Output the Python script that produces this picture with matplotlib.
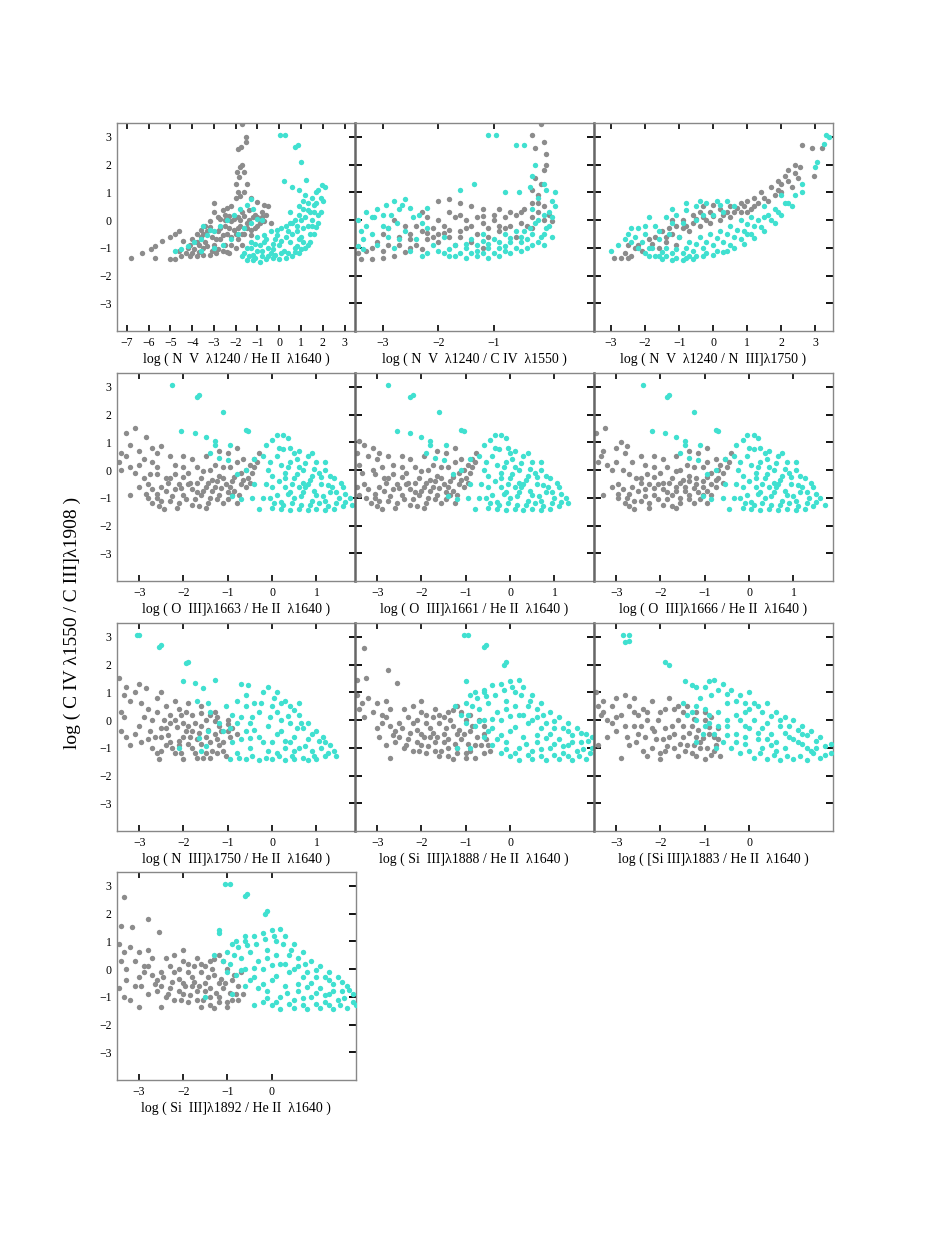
import matplotlib
matplotlib.use("Agg")
import numpy as np
from matplotlib import pyplot as plt

plt.rcParams["font.family"] = ["Liberation Serif", "DejaVu Serif"]

# y axis of every panel: log(C IV 1550 / C III] 1908)
y_ticks = [-3, -2, -1, 0, 1, 2, 3]

# ---- panel 1: N V 1240 / He II 1640 ----
p1_gray = [(-6.8, -1.38), (-6.3, -1.2), (-5.9, -1.05), (-5.7, -0.95), (-5.4, -0.75), (-5.0, -0.6),
           (-4.8, -0.5), (-4.6, -0.4), (-5.7, -1.35), (-5.0, -1.4), (-4.8, -1.4), (-4.5, -1.3),
           (-4.2, -1.0), (-4.4, -0.75), (-4.0, -0.7), (-3.8, -0.5), (-3.6, -0.35), (-3.4, -0.2),
           (-3.2, -0.05), (-3.0, 0.6), (-3.0, 0.3), (-2.8, 0.1), (-2.6, 0.35), (-2.4, 0.45),
           (-2.2, 0.5), (-4.0, -1.2), (-3.8, -1.3), (-3.5, -1.25), (-3.2, -1.25), (-2.9, -1.2),
           (-2.6, -1.1), (-2.3, -1.2), (-3.7, -0.9), (-3.4, -0.8), (-3.1, -0.6), (-2.8, -0.4),
           (-2.5, -0.2), (-2.2, -0.05), (-1.9, 0.1), (-3.5, -1.0), (-3.0, -0.9), (-2.7, -0.7),
           (-2.4, -0.5), (-2.1, -0.35), (-1.8, -0.2), (-1.5, -0.1), (-2.2, -0.9), (-1.9, -0.7),
           (-1.6, -0.5), (-1.3, -0.35), (-1.0, -0.2), (-0.7, -0.05), (-0.4, -0.1), (-1.7, 0.3),
           (-1.4, 0.35), (-1.1, 0.2), (-0.8, 0.1), (-2.0, -1.0), (-1.7, -0.9), (-2.0, 0.8),
           (-1.9, 1.0), (-1.8, 0.85), (-2.0, 1.3), (-1.85, 1.55), (-1.95, 1.75), (-1.8, 1.9),
           (-1.7, 2.0), (-1.6, 1.75), (-1.9, 2.55), (-1.75, 2.65), (-1.55, 2.8), (-1.55, 3.0),
           (-1.7, 3.45), (-1.5, 1.3), (-1.3, 0.8), (-1.0, 0.65), (-0.7, 0.55), (-0.5, 0.5),
           (-1.6, 1.0), (-2.3, 0.15), (-2.5, 0.0)]
p1_gray_fill = [(-4.6, -1.1), (-4.3, -1.2), (-4.1, -0.9), (-3.9, -1.05), (-3.7, -1.15), (-3.6, -0.6),
                (-3.3, -0.95), (-3.3, -0.4), (-3.1, -1.1), (-2.9, -0.7), (-2.8, -1.05), (-2.7, -0.3),
                (-2.6, -0.55), (-2.5, -0.9), (-2.4, -1.15), (-2.3, -0.3), (-2.2, -0.6), (-2.1, 0.05),
                (-2.0, -0.5), (-1.9, -0.3), (-1.8, 0.0), (-1.7, -0.5), (-1.6, 0.15), (-1.5, -0.3),
                (-1.4, 0.0), (-1.3, -0.55), (-1.2, 0.1), (-1.1, -0.3), (-1.0, 0.1), (-0.9, -0.1),
                (-0.8, 0.3), (-0.6, 0.2), (-3.8, -0.8), (-3.5, -0.5), (-4.1, -1.3), (-2.5, 0.2),
                (-2.7, 0.05), (-3.2, -0.25)]
p1_cyan = [(-4.8, -1.1), (-4.5, -1.05), (-4.2, -0.95), (-3.9, -0.8), (-3.6, -0.7), (-3.3, -0.55),
           (-3.0, -0.4), (-2.7, -0.2), (-2.4, 0.0), (-2.1, 0.2), (-1.8, 0.4), (-1.5, 0.55),
           (-1.3, 0.75), (-3.6, -1.1), (-3.0, -1.0), (-2.6, -0.9), (-2.2, -0.7), (-1.9, -0.5),
           (-1.6, -0.3), (-1.3, -0.1), (-1.0, 0.05), (-3.5, -0.2), (-3.2, -0.35), (-1.7, -1.3),
           (-1.5, -1.45), (-1.2, -1.45), (-0.9, -1.5), (-0.6, -1.4), (-0.3, -1.35), (0.0, -1.4),
           (0.3, -1.35), (0.6, -1.3), (0.9, -1.2), (1.2, -1.0), (1.4, -0.8), (1.6, -0.5),
           (1.8, -0.1), (1.9, 0.3), (2.0, 0.7), (2.1, 1.2), (1.95, 1.25), (1.7, 1.0), (1.5, 0.8),
           (1.3, 0.6), (1.1, 0.4), (0.9, 0.2), (0.7, 0.0), (0.5, -0.1), (0.3, -0.2), (0.1, -0.3),
           (-0.1, -0.35), (-0.4, -0.4), (-0.7, -0.55), (-1.0, -0.6), (-1.3, -0.8), (-1.5, -1.0),
           (-1.0, -1.1), (-0.5, -1.0), (0.0, -0.9), (0.5, -0.8), (1.0, -0.6), (1.3, -0.2),
           (1.6, 0.3), (-0.7, -0.8), (-0.2, -0.7), (0.3, -0.6), (0.8, -0.4), (1.2, 0.1), (1.5, 0.0),
           (0.2, -1.1), (0.7, -1.0), (1.1, -0.8), (-1.2, -1.25), (-0.4, -1.2), (0.5, 0.3),
           (0.9, 0.5), (1.2, 0.9), (1.7, 0.6), (0.05, 3.05), (0.25, 3.05), (0.7, 2.65), (0.85, 2.7),
           (1.0, 2.1), (0.2, 1.4), (0.6, 1.2), (1.25, 1.45), (0.9, 1.1), (-1.2, 0.4), (-0.8, 0.0)]
p1_cyan_fill = [(-1.6, -1.2), (-1.4, -1.3), (-1.1, -1.35), (-0.8, -1.3), (-0.5, -1.3), (-0.2, -1.25),
                (0.1, -1.2), (0.4, -1.2), (0.7, -1.15), (1.0, -1.05), (1.3, -0.9), (-1.3, -1.0),
                (-1.1, -0.85), (-0.9, -0.9), (-0.6, -0.7), (-0.3, -0.85), (-0.1, -0.55), (0.1, -0.75),
                (0.4, -0.4), (0.6, -0.5), (0.9, -0.7), (1.1, -0.3), (1.4, -0.5), (1.5, -0.2),
                (1.7, -0.25), (1.4, 0.3), (1.6, 0.55), (1.8, 0.2), (1.9, 0.8), (1.8, 1.1), (1.3, 0.35),
                (1.0, 0.0), (0.8, -0.2), (0.6, -0.1), (1.1, 0.7), (-0.8, -1.1), (-0.3, -1.05),
                (0.8, -0.95)]

# ---- panel 2: N V 1240 / C IV 1550 ----
p2_gray = [(-3.4, -1.4), (-3.2, -1.4), (-3.0, -1.35), (-2.8, -1.3), (-3.3, -1.1), (-3.1, -0.8),
           (-2.9, -0.9), (-2.7, -0.6), (-2.5, -0.5), (-2.3, -0.4), (-2.1, -0.3), (-1.9, -0.2),
           (-2.4, -0.9), (-2.2, -0.7), (-2.0, -0.5), (-1.8, -0.6), (-1.6, -0.4), (-1.4, -0.2),
           (-1.2, -0.1), (-1.0, 0.0), (-0.8, 0.1), (-0.6, 0.2), (-2.0, 0.0), (-1.8, 0.3),
           (-2.0, 0.7), (-1.8, 0.75), (-1.6, 0.6), (-1.4, 0.5), (-1.2, 0.4), (-0.9, 0.4),
           (-1.5, 0.0), (-1.7, -0.9), (-1.4, -0.8), (-1.1, -0.6), (-0.9, -0.4), (-0.7, -0.2),
           (-0.5, -0.1), (-0.3, 0.1), (-0.1, 0.0), (0.05, -0.05), (-2.6, -0.2), (-2.8, 0.0),
           (-2.2, 0.1), (-0.3, 0.6), (-0.2, 0.9), (-0.15, 1.3), (-0.25, 1.5), (-0.1, 1.8),
           (-0.05, 2.0), (-0.25, 2.6), (-0.1, 2.8), (-0.3, 3.05), (-0.15, 3.45), (-0.05, 2.4),
           (-0.3, 1.1), (-0.45, 0.4), (-2.5, -1.0), (-3.0, -0.5), (-1.2, -1.0), (-0.6, -0.6)]
p2_gray_fill = [(-3.45, -1.2), (-3.2, -1.0), (-3.0, -1.1), (-2.9, -0.3), (-2.7, -0.9), (-2.6, -1.15),
                (-2.5, -0.7), (-2.4, -0.2), (-2.3, -1.05), (-2.2, -0.45), (-2.1, -0.6), (-2.0, -0.8),
                (-1.9, -0.45), (-1.8, -0.35), (-1.7, 0.1), (-1.6, -0.6), (-1.5, -0.3), (-1.3, -0.5),
                (-1.3, 0.1), (-1.1, -0.3), (-1.0, 0.2), (-0.9, -0.2), (-0.8, -0.3), (-0.7, 0.3),
                (-0.5, 0.3), (-0.4, -0.2), (-0.3, -0.3), (-0.2, 0.3), (-0.1, 0.5), (0.0, 0.2),
                (-0.2, 0.6), (-1.6, 0.2), (-2.3, 0.3), (-1.2, 0.15)]
p2_cyan = [(-3.45, 0.0), (-3.4, -0.4), (-3.35, -0.7), (-3.45, -0.95), (-3.3, 0.3), (-3.15, 0.1),
           (-3.1, 0.4), (-2.95, 0.55), (-2.8, 0.7), (-2.6, 0.75), (-2.7, 0.4), (-2.85, 0.2),
           (-3.0, -0.2), (-3.2, -0.5), (-3.1, -0.9), (-2.9, -0.6), (-2.75, -0.1), (-2.5, 0.45),
           (-2.35, 0.2), (-2.2, 0.45), (-2.6, -0.4), (-2.8, -1.0), (-2.5, -1.1), (-2.3, -1.3),
           (-2.4, -0.7), (-2.1, -0.9), (-1.9, -1.2), (-1.7, -1.3), (-1.5, -1.35), (-1.3, -1.3),
           (-1.1, -1.35), (-0.9, -1.3), (-0.7, -1.2), (-0.5, -1.1), (-0.3, -0.9), (-0.15, -0.6),
           (-0.05, -0.3), (0.05, 0.1), (0.1, 0.5), (0.1, 1.0), (-0.05, 1.1), (-0.2, 0.8),
           (-0.3, 0.4), (-0.2, 0.0), (-0.35, -0.3), (-0.5, -0.6), (-0.7, -0.8), (-0.9, -1.0),
           (-1.1, -1.0), (-1.3, -1.1), (-1.5, -1.0), (-1.7, -0.9), (-1.4, -0.7), (-1.0, -0.7),
           (-0.6, -0.4), (-0.8, -0.5), (-1.2, -0.5), (-1.9, -0.6), (-2.0, -1.1), (-0.4, -0.7),
           (-1.8, -1.05), (-1.1, 3.05), (-0.95, 3.05), (-0.6, 2.7), (-0.45, 2.7), (-0.25, 2.0),
           (-0.3, 1.6), (-1.35, 1.3), (-1.6, 1.1), (-0.8, 1.0), (-0.55, 1.0), (-0.35, 1.2),
           (-0.1, 1.3)]
p2_cyan_fill = [(-1.6, -1.2), (-1.4, -1.2), (-1.2, -1.2), (-1.0, -1.2), (-0.8, -1.1), (-0.6, -1.0),
                (-0.4, -1.0), (-0.2, -0.8), (-0.1, -0.5), (0.0, -0.2), (-1.5, -0.85), (-1.3, -0.9),
                (-1.1, -0.85), (-0.9, -0.8), (-0.7, -0.65), (-0.5, -0.8), (-0.3, -0.5), (-0.1, -0.9),
                (0.05, -0.6), (0.0, 0.3), (0.05, 0.7), (-0.1, 0.2), (-0.25, -0.1), (-0.45, -0.4),
                (-1.2, -0.75), (-0.8, -0.95), (-3.3, -0.2), (-3.2, 0.1), (-3.0, 0.2), (-2.9, -0.3),
                (-3.35, -1.05), (-2.65, 0.55), (-2.45, 0.1), (-2.3, -0.1), (-2.2, -0.3), (-2.7, -0.7),
                (-2.2, -1.2), (-1.8, -1.3)]

# ---- panel 3: N V 1240 / N III] 1750 ----
p3_gray = [(-2.9, -1.35), (-2.7, -1.35), (-2.5, -1.35), (-2.4, -1.3), (-2.5, -0.9), (-2.3, -1.0),
           (-2.1, -1.1), (-1.9, -0.7), (-1.7, -0.6), (-1.5, -0.4), (-1.3, -0.3), (-1.1, -0.2),
           (-0.9, 0.0), (-0.6, 0.2), (-0.4, 0.3), (-0.1, 0.3), (0.2, 0.4), (0.5, 0.5), (0.8, 0.6),
           (1.0, 0.7), (1.2, 0.8), (1.4, 1.0), (1.7, 1.2), (1.9, 1.4), (2.1, 1.6), (2.2, 1.8),
           (2.4, 2.0), (2.5, 1.5), (2.3, 1.2), (2.0, 1.0), (1.8, 0.9), (-1.0, -0.6), (-0.7, -0.4),
           (-0.4, -0.2), (-0.1, -0.1), (0.2, 0.0), (0.5, 0.1), (0.8, 0.3), (1.1, 0.4), (-1.4, -0.8),
           (-1.1, -0.9), (-0.2, 0.0), (0.3, 0.2), (0.6, 0.3), (1.3, 0.6), (-0.8, -0.2), (-1.6, -1.0),
           (2.6, 2.7), (3.2, 2.6), (2.9, 2.6), (2.95, 1.6), (2.55, 1.9), (-0.3, 0.5), (0.0, 0.55),
           (-1.2, 0.0)]
p3_gray_fill = [(-2.6, -1.2), (-2.2, -0.9), (-1.8, -0.85), (-1.4, -0.6), (-1.2, -0.5), (-0.9, -0.3),
                (-0.6, -0.1), (-0.5, 0.05), (-0.3, 0.1), (0.0, 0.15), (0.4, 0.3), (0.7, 0.45),
                (0.9, 0.5), (1.2, 0.5), (1.5, 0.8), (1.6, 0.7), (1.9, 1.1), (2.2, 1.4), (2.4, 1.7),
                (2.0, 1.3), (1.0, 0.3)]
p3_cyan = [(-3.0, -1.1), (-2.8, -0.9), (-2.5, -0.5), (-2.3, -0.6), (-2.1, -0.8), (-1.9, -1.0),
           (-1.7, -1.3), (-1.5, -1.4), (-1.2, -1.45), (-0.9, -1.45), (-0.6, -1.4), (-0.3, -1.3),
           (0.0, -1.25), (0.3, -1.15), (0.6, -1.0), (0.9, -0.85), (1.2, -0.65), (1.5, -0.4),
           (1.8, -0.1), (2.0, 0.2), (2.3, 0.5), (2.6, 1.0), (2.4, 0.9), (2.1, 0.6), (1.8, 0.4),
           (1.5, 0.1), (1.2, -0.2), (0.9, -0.4), (0.6, -0.6), (0.3, -0.8), (0.0, -0.9), (-0.3, -1.0),
           (-0.6, -1.1), (-0.9, -1.2), (-1.2, -1.2), (-1.5, -1.15), (-1.8, -1.0), (-1.6, -0.7),
           (-1.3, -0.5), (-1.0, -0.6), (-0.7, -0.8), (-0.4, -0.6), (-0.1, -0.5), (0.2, -0.4),
           (0.5, -0.2), (0.8, 0.0), (1.1, 0.1), (-1.7, -0.2), (-1.4, 0.1), (-1.1, 0.2), (-0.8, 0.35),
           (-0.5, 0.5), (-0.2, 0.6), (0.1, 0.7), (0.4, 0.7), (-2.2, -0.3), (-1.9, 0.1), (-1.2, -0.1),
           (-0.5, 0.0), (0.0, 0.2), (-2.0, -0.5), (1.5, 0.5), (2.0, 0.9), (-0.7, -1.3), (0.4, -1.1),
           (1.0, -0.5), (3.0, 1.9), (3.05, 2.1), (3.3, 3.05), (3.4, 3.0), (3.25, 2.75), (2.6, 1.3)]
p3_cyan_fill = [(-2.6, -0.7), (-2.4, -0.8), (-2.2, -1.0), (-2.0, -1.2), (-1.9, -1.3), (-1.6, -1.3),
                (-1.4, -1.3), (-1.1, -1.35), (-0.8, -1.35), (-0.5, -1.3), (-0.2, -1.2), (0.1, -1.1),
                (0.5, -0.9), (0.8, -0.7), (1.1, -0.5), (1.4, -0.25), (1.7, 0.0), (1.9, 0.3),
                (2.2, 0.6), (-1.4, -1.0), (-1.1, -1.05), (-0.8, -1.0), (-0.5, -0.85), (-0.2, -0.8),
                (0.1, -0.65), (0.4, -0.5), (0.7, -0.35), (1.0, -0.15), (1.3, 0.0), (1.6, 0.2),
                (-2.4, -0.3), (-2.0, -0.2), (-1.6, -0.4), (-0.9, -0.1), (-0.3, 0.2), (0.3, 0.3),
                (0.6, 0.5), (-1.2, 0.4), (-0.8, 0.6), (-0.4, 0.7), (0.2, 0.55)]

# ---- panel 4: O III] 1663 / He II 1640 ----
p4_gray = [(-3.45, 0.3), (-3.4, 0.0), (-3.3, 0.5), (-3.2, 0.1), (-3.1, -0.1), (-3.0, 0.2),
           (-2.9, -0.3), (-3.3, 1.35), (-3.1, 1.5), (-3.2, 0.9), (-3.0, 0.7), (-2.85, 1.2),
           (-2.7, 0.8), (-2.6, 0.6), (-2.5, 0.85), (-2.8, -0.5), (-2.7, -0.7), (-2.6, -1.0),
           (-2.8, -1.0), (-2.55, -1.3), (-2.45, -1.4), (-2.3, -1.1), (-2.5, -0.6), (-2.4, -0.3),
           (-2.2, -0.7), (-2.1, -1.2), (-2.0, -0.9), (-1.9, -0.5), (-1.8, -1.25), (-1.7, -0.8),
           (-1.6, -0.3), (-1.5, -1.35), (-1.4, -1.0), (-1.3, -0.6), (-1.2, -0.2), (-1.1, -1.2),
           (-1.0, -0.8), (-0.9, -0.4), (-0.8, -1.2), (-0.7, -0.1), (-0.6, -0.6), (-0.5, 0.2),
           (-0.4, 0.4), (-0.3, 0.6), (-0.55, -0.3), (-0.8, 0.3), (-1.1, 0.1), (-1.4, 0.0),
           (-1.7, 0.1), (-2.0, 0.1), (-2.2, 0.2), (-2.3, 0.5), (-2.0, 0.5), (-1.8, 0.4), (-1.5, 0.5),
           (-1.2, 0.7), (-1.0, 0.6), (-0.8, 0.8), (-2.3, -0.3), (-2.0, -0.25), (-1.8, -0.7),
           (-1.5, -0.6), (-1.2, -0.9), (-0.9, -0.9), (-1.6, -0.9), (-2.1, -0.5), (-1.35, -0.35),
           (-1.05, -0.5), (-0.7, -0.5), (-0.45, -0.1), (-3.4, 0.6), (-2.9, 0.4), (-2.7, 0.3),
           (-2.6, 0.1), (-2.75, -0.15)]
p4_gray_fill = [(-2.7, -1.2), (-2.6, -0.85), (-2.5, -1.1), (-2.4, -0.75), (-2.35, -0.45), (-2.25, -0.95),
                (-2.15, -1.35), (-2.05, -0.65), (-1.95, -1.05), (-1.9, -0.1), (-1.85, -0.45),
                (-1.75, -1.05), (-1.7, -0.45), (-1.65, -1.3), (-1.55, -0.75), (-1.45, -0.45),
                (-1.45, -1.2), (-1.35, -0.75), (-1.25, -1.05), (-1.25, -0.4), (-1.15, -0.65),
                (-1.1, -0.3), (-1.0, -1.05), (-0.95, -0.6), (-0.85, -0.75), (-0.85, -0.25),
                (-0.75, -0.9), (-0.65, -0.35), (-0.6, 0.0), (-0.5, -0.45), (-0.4, 0.1), (-0.35, 0.3),
                (-1.55, -0.05), (-1.3, 0.2), (-0.95, 0.1), (-0.65, 0.4), (-2.2, -0.15), (-2.6, -0.15),
                (-3.0, -0.6), (-3.2, -0.9), (-2.85, -0.85)]
p4_cyan = [(-0.3, -1.4), (-0.2, -1.0), (-0.15, -0.5), (-0.1, 0.0), (-0.2, 0.5), (-0.15, 0.9),
           (0.0, 1.1), (0.1, 1.25), (0.25, 1.25), (0.35, 1.15), (0.4, 0.8), (0.6, 0.7), (0.8, 0.5),
           (1.0, 0.3), (1.2, 0.0), (1.4, -0.3), (1.6, -0.6), (1.75, -1.0), (1.8, -1.25), (1.6, -1.3),
           (1.4, -1.4), (1.2, -1.45), (1.0, -1.4), (0.8, -1.45), (0.6, -1.4), (0.4, -1.45),
           (0.2, -1.4), (0.0, -1.35), (0.1, -0.9), (0.3, -0.6), (0.5, -0.3), (0.7, 0.0), (0.9, -0.2),
           (1.1, -0.5), (1.3, -0.8), (1.5, -1.0), (0.2, 0.2), (0.4, 0.3), (0.6, 0.1), (0.8, -0.5),
           (1.0, -0.9), (1.2, -1.1), (0.5, -1.0), (0.3, -0.1), (0.1, 0.5), (0.0, -0.6), (0.7, -0.8),
           (0.9, -1.1), (0.6, -0.6), (0.4, -0.8), (1.3, -0.2), (0.2, -1.15), (-0.4, -0.5),
           (-0.45, -1.0), (-0.7, -1.05), (-0.9, -0.95), (-0.6, 0.0), (-0.8, -0.15), (-1.0, 0.35),
           (-1.2, 0.45), (-1.4, 0.6), (-0.4, 0.4), (1.65, -0.85), (1.2, 0.3), (0.9, 0.6), (0.5, 0.6),
           (-2.25, 3.05), (-1.7, 2.65), (-1.65, 2.7), (-1.1, 2.1), (-2.05, 1.4), (-1.75, 1.35),
           (-1.5, 1.2), (-1.3, 1.05), (-0.6, 1.45), (-0.55, 1.4), (-0.95, 0.9), (-1.3, 0.9)]
p4_cyan_fill = [(0.05, -1.2), (0.25, -1.25), (0.45, -1.2), (0.65, -1.25), (0.85, -1.25), (1.05, -1.2),
                (1.25, -1.3), (1.45, -1.2), (1.65, -1.15), (0.0, -0.2), (0.15, -0.4), (0.35, -0.85),
                (0.45, -0.5), (0.55, -0.15), (0.65, -0.95), (0.75, -0.6), (0.85, -0.35), (0.95, -0.75),
                (1.05, -0.1), (1.15, -0.95), (1.25, -0.55), (1.35, -0.6), (1.45, -0.8), (1.55, -0.45),
                (0.25, 0.75), (0.35, 0.1), (0.55, 0.4), (0.75, 0.25), (0.95, 0.05), (0.15, 0.8),
                (-0.05, 0.3), (-0.05, -1.0), (0.3, -0.3), (0.7, -0.45), (1.1, -0.25)]

# ---- panel 5: O III] 1661 / He II 1640 ----
p5_gray = [(-3.45, 0.6), (-3.4, 1.05), (-3.3, 0.9), (-3.4, 0.2), (-3.35, -0.1), (-3.2, 0.5),
           (-3.1, 0.8), (-3.0, 0.4), (-2.95, 0.6), (-3.3, -0.5), (-3.2, -0.7), (-3.05, -1.0),
           (-3.25, -1.0), (-3.0, -1.3), (-2.9, -1.4), (-2.75, -1.1), (-2.95, -0.6), (-2.85, -0.3),
           (-2.65, -0.7), (-2.55, -1.2), (-2.45, -0.9), (-2.35, -0.5), (-2.25, -1.25), (-2.15, -0.8),
           (-2.05, -0.3), (-1.95, -1.35), (-1.85, -1.0), (-1.75, -0.6), (-1.65, -0.2), (-1.55, -1.2),
           (-1.45, -0.8), (-1.35, -0.4), (-1.25, -1.2), (-1.15, -0.1), (-1.05, -0.6), (-0.95, 0.2),
           (-0.85, 0.4), (-0.78, 0.6), (-1.0, -0.3), (-1.25, 0.3), (-1.55, 0.1), (-1.85, 0.0),
           (-2.15, 0.1), (-2.45, 0.1), (-2.65, 0.2), (-2.75, 0.5), (-2.45, 0.5), (-2.25, 0.4),
           (-1.95, 0.5), (-1.65, 0.7), (-1.45, 0.6), (-1.25, 0.8), (-2.75, -0.3), (-2.45, -0.25),
           (-2.25, -0.7), (-1.95, -0.6), (-1.65, -0.9), (-1.35, -0.9), (-2.05, -0.9), (-2.55, -0.5),
           (-1.8, -0.35), (-1.5, -0.5), (-1.15, -0.5), (-0.9, -0.1), (-3.1, 0.0), (-2.9, 0.1)]
p5_gray_fill = [(-3.15, -1.2), (-3.05, -0.85), (-2.95, -1.1), (-2.85, -0.75), (-2.8, -0.45), (-2.7, -0.95),
                (-2.6, -1.35), (-2.5, -0.65), (-2.4, -1.05), (-2.35, -0.1), (-2.3, -0.45), (-2.2, -1.05),
                (-2.15, -0.45), (-2.1, -1.3), (-2.0, -0.75), (-1.9, -0.45), (-1.9, -1.2), (-1.8, -0.75),
                (-1.7, -1.05), (-1.7, -0.4), (-1.6, -0.65), (-1.55, -0.3), (-1.45, -1.05), (-1.4, -0.6),
                (-1.3, -0.75), (-1.3, -0.25), (-1.2, -0.9), (-1.1, -0.35), (-1.05, 0.0), (-0.95, -0.45),
                (-0.85, 0.1), (-0.8, 0.3), (-2.0, -0.05), (-1.75, 0.2), (-1.4, 0.1), (-1.1, 0.4),
                (-2.65, -0.15), (-3.05, -0.15), (-3.45, -0.6), (-3.4, -0.9)]
p5_cyan = [(-0.8, -1.4), (-0.7, -1.0), (-0.65, -0.5), (-0.6, 0.0), (-0.7, 0.5), (-0.6, 0.9),
           (-0.45, 1.1), (-0.35, 1.25), (-0.2, 1.25), (-0.1, 1.15), (-0.05, 0.8), (0.1, 0.7),
           (0.3, 0.5), (0.5, 0.3), (0.7, 0.0), (0.9, -0.3), (1.1, -0.6), (1.25, -1.0), (1.3, -1.2),
           (1.1, -1.3), (0.9, -1.4), (0.7, -1.45), (0.5, -1.4), (0.3, -1.45), (0.1, -1.4),
           (-0.1, -1.45), (-0.3, -1.4), (-0.5, -1.35), (-0.4, -0.9), (-0.2, -0.6), (0.0, -0.3),
           (0.2, 0.0), (0.4, -0.2), (0.6, -0.5), (0.8, -0.8), (1.0, -1.0), (-0.3, 0.2), (-0.1, 0.3),
           (0.1, 0.1), (0.3, -0.5), (0.5, -0.9), (0.7, -1.1), (0.0, -1.0), (-0.2, -0.1), (-0.4, 0.5),
           (-0.5, -0.6), (0.2, -0.8), (0.4, -1.1), (0.1, -0.6), (-0.1, -0.8), (0.8, -0.2),
           (-0.3, -1.15), (-0.9, -0.5), (-0.95, -1.0), (-1.2, -1.05), (-1.4, -0.95), (-1.1, 0.0),
           (-1.3, -0.15), (-1.5, 0.35), (-1.7, 0.45), (-1.9, 0.6), (-0.9, 0.4), (1.15, -0.85),
           (0.7, 0.3), (0.4, 0.6), (0.0, 0.6), (-2.75, 3.05), (-2.25, 2.65), (-2.2, 2.7),
           (-1.6, 2.1), (-2.55, 1.4), (-2.25, 1.35), (-2.0, 1.2), (-1.8, 1.05), (-1.1, 1.45),
           (-1.05, 1.4), (-1.45, 0.9), (-1.8, 0.9)]
p5_cyan_fill = [(-0.45, -1.2), (-0.25, -1.25), (-0.05, -1.2), (0.15, -1.25), (0.35, -1.25), (0.55, -1.2),
                (0.75, -1.3), (0.95, -1.2), (1.15, -1.15), (-0.5, -0.2), (-0.35, -0.4), (-0.15, -0.85),
                (-0.05, -0.5), (0.05, -0.15), (0.15, -0.95), (0.25, -0.6), (0.35, -0.35), (0.45, -0.75),
                (0.55, -0.1), (0.65, -0.95), (0.75, -0.55), (0.85, -0.6), (0.95, -0.8), (1.05, -0.45),
                (-0.25, 0.75), (-0.15, 0.1), (0.05, 0.4), (0.25, 0.25), (0.45, 0.05), (-0.35, 0.8),
                (-0.55, 0.3), (-0.55, -1.0), (-0.2, -0.3), (0.2, -0.45), (0.6, -0.25)]

# ---- panel 6: O III] 1666 / He II 1640 ----
p6_gray = [(-3.45, 1.35), (-3.25, 1.5), (-3.4, 0.3), (-3.35, 0.5), (-3.2, 0.2), (-3.1, 0.0),
           (-3.0, 0.3), (-3.0, 0.8), (-2.9, 1.0), (-2.8, 0.6), (-2.75, 0.85), (-2.95, -0.5),
           (-2.85, -0.7), (-2.75, -1.0), (-2.95, -1.0), (-2.7, -1.3), (-2.6, -1.4), (-2.45, -1.1),
           (-2.65, -0.6), (-2.55, -0.3), (-2.35, -0.7), (-2.25, -1.2), (-2.15, -0.9), (-2.05, -0.5),
           (-1.95, -1.25), (-1.85, -0.8), (-1.75, -0.3), (-1.65, -1.35), (-1.55, -1.0), (-1.45, -0.6),
           (-1.35, -0.2), (-1.25, -1.2), (-1.15, -0.8), (-1.05, -0.4), (-0.95, -1.2), (-0.85, -0.1),
           (-0.75, -0.6), (-0.65, 0.2), (-0.55, 0.4), (-0.4, 0.6), (-0.7, -0.3), (-0.95, 0.3),
           (-1.25, 0.1), (-1.55, 0.0), (-1.85, 0.1), (-2.15, 0.1), (-2.35, 0.2), (-2.45, 0.5),
           (-2.15, 0.5), (-1.95, 0.4), (-1.65, 0.5), (-1.35, 0.7), (-1.15, 0.6), (-0.95, 0.8),
           (-2.45, -0.3), (-2.15, -0.25), (-1.95, -0.7), (-1.65, -0.6), (-1.35, -0.9), (-1.05, -0.9),
           (-1.75, -0.9), (-2.25, -0.5), (-1.5, -0.35), (-1.2, -0.5), (-0.85, -0.5), (-0.6, -0.1),
           (-3.3, 0.7), (-2.65, 0.3), (-2.85, 0.0)]
p6_gray_fill = [(-2.8, -1.2), (-2.7, -0.85), (-2.6, -1.1), (-2.5, -0.75), (-2.45, -0.45), (-2.35, -0.95),
                (-2.25, -1.35), (-2.15, -0.65), (-2.05, -1.05), (-2.0, -0.1), (-1.95, -0.45),
                (-1.85, -1.05), (-1.8, -0.45), (-1.75, -1.3), (-1.65, -0.75), (-1.55, -0.45),
                (-1.55, -1.2), (-1.45, -0.75), (-1.35, -1.05), (-1.35, -0.4), (-1.25, -0.65),
                (-1.2, -0.3), (-1.1, -1.05), (-1.05, -0.6), (-0.95, -0.75), (-0.95, -0.25),
                (-0.85, -0.9), (-0.75, -0.35), (-0.7, 0.0), (-0.6, -0.45), (-0.5, 0.1), (-0.45, 0.3),
                (-1.65, -0.05), (-1.4, 0.2), (-1.05, 0.1), (-0.75, 0.4), (-2.3, -0.15), (-2.7, -0.15),
                (-3.1, -0.6), (-3.3, -0.9), (-2.95, -0.85)]
p6_cyan = [(-0.45, -1.4), (-0.35, -1.0), (-0.3, -0.5), (-0.25, 0.0), (-0.35, 0.5), (-0.3, 0.9),
           (-0.15, 1.1), (-0.05, 1.25), (0.1, 1.25), (0.2, 1.15), (0.25, 0.8), (0.45, 0.7),
           (0.65, 0.5), (0.85, 0.3), (1.05, 0.0), (1.25, -0.3), (1.45, -0.6), (1.6, -1.0),
           (1.7, -1.25), (1.45, -1.3), (1.25, -1.4), (1.05, -1.45), (0.85, -1.4), (0.65, -1.45),
           (0.45, -1.4), (0.25, -1.45), (0.05, -1.4), (-0.15, -1.35), (-0.05, -0.9), (0.15, -0.6),
           (0.35, -0.3), (0.55, 0.0), (0.75, -0.2), (0.95, -0.5), (1.15, -0.8), (1.35, -1.0),
           (0.05, 0.2), (0.25, 0.3), (0.45, 0.1), (0.65, -0.5), (0.85, -0.9), (1.05, -1.1),
           (0.35, -1.0), (0.15, -0.1), (-0.05, 0.5), (-0.15, -0.6), (0.55, -0.8), (0.75, -1.1),
           (0.45, -0.6), (0.25, -0.8), (1.15, -0.2), (0.05, -1.15), (-0.55, -0.5), (-0.6, -1.0),
           (-0.85, -1.05), (-1.05, -0.95), (-0.75, 0.0), (-0.95, -0.15), (-1.15, 0.35),
           (-1.35, 0.45), (-1.55, 0.6), (-0.55, 0.4), (1.5, -0.85), (1.05, 0.3), (0.75, 0.6),
           (0.35, 0.6), (-2.4, 3.05), (-1.85, 2.65), (-1.8, 2.7), (-1.25, 2.1), (-2.2, 1.4),
           (-1.9, 1.35), (-1.65, 1.2), (-1.45, 1.05), (-0.75, 1.45), (-0.7, 1.4), (-1.1, 0.9),
           (-1.45, 0.9)]
p6_cyan_fill = [(-0.1, -1.2), (0.1, -1.25), (0.3, -1.2), (0.5, -1.25), (0.7, -1.25), (0.9, -1.2),
                (1.1, -1.3), (1.3, -1.2), (1.5, -1.15), (-0.15, -0.2), (0.0, -0.4), (0.2, -0.85),
                (0.3, -0.5), (0.4, -0.15), (0.5, -0.95), (0.6, -0.6), (0.7, -0.35), (0.8, -0.75),
                (0.9, -0.1), (1.0, -0.95), (1.1, -0.55), (1.2, -0.6), (1.3, -0.8), (1.4, -0.45),
                (0.1, 0.75), (0.2, 0.1), (0.4, 0.4), (0.6, 0.25), (0.8, 0.05), (0.0, 0.8), (-0.2, 0.3),
                (-0.2, -1.0), (0.15, -0.3), (0.55, -0.45), (0.95, -0.25)]

# ---- panel 7: N III] 1750 / He II 1640 ----
p7_gray = [(-3.45, 1.5), (-3.4, 0.3), (-3.35, 0.9), (-3.3, 1.2), (-3.2, 0.7), (-3.1, 1.0),
           (-3.0, 1.3), (-2.95, 0.6), (-2.85, 1.15), (-3.4, -0.4), (-3.3, -0.6), (-3.2, -0.9),
           (-3.1, -0.5), (-3.0, -0.2), (-2.9, 0.1), (-2.8, 0.4), (-2.7, 0.0), (-2.8, -0.7),
           (-2.7, -1.0), (-2.6, -1.2), (-2.55, -1.4), (-2.6, 0.8), (-2.5, 1.0), (-2.4, 0.5),
           (-2.3, 0.2), (-2.4, -0.3), (-2.3, -0.8), (-2.2, -1.2), (-2.2, 0.7), (-2.1, 0.4),
           (-2.0, -0.1), (-2.0, -0.6), (-2.0, -1.4), (-1.9, 0.6), (-1.8, 0.2), (-1.8, -0.4),
           (-1.8, -1.0), (-1.7, -1.35), (-1.6, 0.5), (-1.5, 0.0), (-1.5, -0.6), (-1.5, -1.2),
           (-1.4, -1.35), (-1.3, 0.3), (-1.2, -0.2), (-1.2, -0.9), (-1.1, -1.1), (-1.0, -0.4),
           (-0.95, -0.6), (-0.8, -0.5), (-1.0, 0.0), (-1.7, -0.7), (-2.1, -0.9), (-2.4, -0.9),
           (-2.5, -0.6), (-1.9, -0.2), (-1.6, -0.2), (-1.3, -0.5), (-2.2, 0.0), (-2.6, 0.3),
           (-1.4, 0.2), (-1.9, -0.85), (-1.25, -1.2), (-3.35, 0.1), (-2.95, -0.8), (-2.75, -0.4),
           (-2.45, 0.0)]
p7_gray_fill = [(-2.5, -1.1), (-2.35, -0.55), (-2.25, -1.0), (-2.15, -0.25), (-2.1, -0.75), (-2.05, -1.2),
                (-1.95, 0.3), (-1.95, -0.4), (-1.85, -0.6), (-1.75, -0.1), (-1.75, -1.2), (-1.65, -0.45),
                (-1.6, -0.85), (-1.55, -1.35), (-1.45, -0.35), (-1.4, -0.8), (-1.35, -1.1), (-1.3, -0.05),
                (-1.25, -0.7), (-1.15, -0.4), (-1.1, -0.8), (-1.05, -1.3), (-1.0, -0.15), (-0.9, -0.3),
                (-2.3, -0.1), (-2.5, -0.3), (-2.65, -0.6), (-2.05, 0.2), (-1.6, 0.25), (-1.25, 0.1)]
p7_cyan = [(-0.95, -1.4), (-0.8, -1.2), (-0.9, -0.8), (-0.95, -0.3), (-0.9, 0.2), (-0.8, 0.7),
           (-0.7, 1.3), (-0.55, 1.25), (-0.6, 0.9), (-0.4, 0.6), (-0.2, 1.0), (-0.1, 1.2),
           (0.1, 1.0), (0.2, 0.6), (0.1, 0.3), (0.4, 0.5), (0.6, 0.2), (0.8, -0.1), (1.0, -0.4),
           (1.2, -0.8), (1.4, -1.1), (1.45, -1.3), (1.2, -1.3), (1.0, -1.4), (0.8, -1.45),
           (0.5, -1.4), (0.3, -1.45), (0.0, -1.4), (-0.3, -1.45), (-0.6, -1.4), (-0.5, -1.0),
           (-0.3, -0.6), (-0.1, -0.2), (0.0, -0.8), (0.2, -0.4), (0.4, -0.1), (0.3, -1.0),
           (0.5, -0.6), (0.7, -0.3), (0.6, -1.0), (0.8, -0.7), (0.9, -1.1), (1.1, -1.0),
           (-0.6, -0.4), (-0.7, 0.1), (-0.3, 0.3), (-0.1, -1.1), (0.2, 0.0), (-0.5, -0.1),
           (0.0, 0.5), (0.4, -0.8), (-1.1, -0.4), (-1.2, -0.1), (-1.4, 0.3), (-1.45, -0.4),
           (-1.65, -0.65), (-1.6, -1.1), (-1.5, -0.95), (-2.1, -1.0), (-1.7, 0.7), (-1.45, 0.6),
           (-1.05, 0.5), (0.6, 0.6), (-3.05, 3.05), (-3.0, 3.05), (-2.55, 2.65), (-2.5, 2.7),
           (-1.95, 2.05), (-1.9, 2.1), (-2.0, 1.4), (-1.75, 1.35), (-1.3, 1.45), (-1.55, 1.15)]
p7_cyan_fill = [(-0.75, -1.35), (-0.45, -1.3), (-0.15, -1.35), (0.15, -1.3), (0.45, -1.3), (0.7, -1.35),
                (0.95, -1.3), (1.25, -1.2), (-0.7, -0.7), (-0.4, -0.35), (-0.2, -0.8), (0.1, -0.5),
                (0.3, -0.75), (0.35, 0.15), (0.55, -0.3), (0.65, -0.1), (0.75, -0.95), (0.9, -0.5),
                (1.05, -0.75), (1.15, -0.6), (1.3, -0.9), (-0.8, -0.1), (-0.6, 0.5), (-0.45, 0.1),
                (-0.25, 0.6), (-0.05, 0.1), (0.05, 0.8), (0.3, 0.7), (0.5, 0.35), (-0.5, -0.65),
                (0.1, -1.2), (0.5, -1.1)]

# ---- panel 8: Si III] 1888 / He II 1640 ----
p8_gray = [(-3.45, 0.9), (-3.4, 0.4), (-3.35, 0.6), (-3.3, 0.1), (-3.2, 0.8), (-3.1, 0.3),
           (-3.0, 0.6), (-2.9, 0.2), (-2.8, 0.7), (-2.7, 0.4), (-3.3, 2.6), (-2.75, 1.8),
           (-3.45, 1.45), (-3.25, 1.5), (-2.55, 1.35), (-2.95, -0.6), (-2.8, -0.9), (-2.7, -1.35),
           (-2.6, -0.4), (-2.5, -0.1), (-2.4, 0.4), (-2.3, -0.7), (-2.2, -1.1), (-2.1, 0.0),
           (-2.0, 0.7), (-2.0, -0.5), (-1.9, -1.2), (-1.8, -0.3), (-1.7, 0.4), (-1.7, -0.8),
           (-1.6, -1.3), (-1.5, 0.1), (-1.5, -0.5), (-1.4, -1.0), (-1.3, -1.4), (-1.3, -0.2),
           (-1.2, 0.5), (-1.1, -0.7), (-1.0, -1.2), (-1.0, 0.0), (-0.9, -0.4), (-0.8, -0.9),
           (-0.7, 0.0), (-0.6, -0.5), (-0.5, -0.9), (-0.45, -1.1), (-0.8, -1.35), (-0.6, -1.2),
           (-2.6, -0.8), (-2.3, 0.1), (-2.1, -0.35), (-1.9, 0.2), (-1.6, -0.1), (-1.8, -0.6),
           (-1.4, 0.3), (-1.2, -0.5), (-2.4, -1.0), (-1.1, 0.3), (-0.9, 0.2), (-2.9, -0.1),
           (-3.0, -0.3), (-2.2, 0.5), (-1.5, -0.8), (-1.2, -1.0), (-2.0, -0.9), (-1.7, -1.1)]
p8_gray_fill = [(-2.5, -0.6), (-2.45, -0.3), (-2.35, -0.9), (-2.25, -0.45), (-2.2, -0.1), (-2.1, -0.8),
                (-2.05, -1.1), (-1.95, -0.6), (-1.9, -0.1), (-1.85, -0.95), (-1.75, -0.45), (-1.65, -0.6),
                (-1.6, 0.2), (-1.55, -1.1), (-1.45, -0.3), (-1.4, -0.7), (-1.35, 0.0), (-1.25, -0.85),
                (-1.2, -1.2), (-1.15, -0.35), (-1.05, -0.5), (-0.95, -0.85), (-0.9, -1.1), (-0.85, -0.2),
                (-0.75, -0.6), (-0.65, -0.9), (-0.6, -0.2), (-0.55, -0.7), (-1.75, 0.1), (-2.0, 0.3),
                (-1.3, 0.35), (-2.7, -0.2), (-2.8, 0.1), (-2.65, -0.55), (-1.4, -1.3), (-1.0, -1.35)]
p8_cyan = [(-1.25, 0.5), (-1.1, 0.2), (-1.0, 0.6), (-0.9, 0.9), (-0.8, 1.0), (-0.6, 1.1),
           (-0.4, 1.25), (-0.2, 1.3), (0.0, 1.4), (0.2, 1.45), (0.3, 1.2), (0.1, 1.0), (0.5, 0.9),
           (0.7, 0.6), (0.9, 0.3), (1.1, 0.1), (1.3, -0.1), (1.5, -0.3), (1.7, -0.5), (1.85, -0.6),
           (1.85, -1.0), (1.7, -1.4), (1.4, -1.45), (1.1, -1.4), (0.8, -1.45), (0.5, -1.4),
           (0.2, -1.45), (0.0, -1.3), (-0.2, -1.2), (-0.4, -0.9), (-0.6, -0.6), (-0.8, -0.2),
           (-1.0, -0.1), (-0.7, 0.4), (-0.5, 0.6), (-0.3, 0.3), (-0.1, 0.7), (0.1, 0.5), (0.3, 0.2),
           (0.5, 0.0), (0.7, -0.3), (0.9, -0.5), (1.1, -0.7), (1.3, -0.9), (1.5, -1.1), (1.2, -1.2),
           (0.9, -1.0), (0.6, -0.8), (0.3, -0.6), (0.0, -0.4), (-0.2, 0.0), (-0.4, -0.3),
           (0.2, -1.0), (0.5, -1.1), (0.8, -0.1), (1.0, -0.3), (0.4, 0.5), (-0.1, -0.8),
           (-1.2, -1.0), (-0.9, -1.0), (-0.6, 0.0), (1.6, -0.8), (1.3, -0.4), (-1.05, 3.05),
           (-0.95, 3.05), (-0.55, 2.7), (-0.6, 2.65), (-0.1, 2.1), (-0.15, 2.0), (-1.0, 1.4),
           (-0.6, 1.0)]
p8_cyan_fill = [(-0.95, 0.2), (-0.85, 0.5), (-0.75, 0.8), (-0.55, 0.85), (-0.35, 0.9), (-0.15, 1.1),
                (0.05, 1.2), (0.25, 0.9), (0.45, 0.7), (0.6, 0.4), (0.75, 0.2), (1.0, -0.05),
                (1.2, -0.3), (1.4, -0.55), (1.6, -0.45), (1.75, -0.75), (1.8, -1.2), (1.55, -1.3),
                (1.3, -1.3), (1.0, -1.25), (0.7, -1.3), (0.4, -1.25), (0.1, -1.2), (-0.1, -1.05),
                (-0.3, -0.7), (-0.5, -0.4), (-0.7, -0.05), (-0.4, 0.05), (-0.1, 0.4), (0.2, 0.2),
                (0.4, -0.1), (0.6, -0.55), (0.8, -0.65), (1.0, -0.85), (1.2, -0.95), (1.4, -0.8),
                (0.1, -0.25), (-0.2, -0.55), (0.35, -0.85), (0.7, -1.05), (1.65, -1.05), (0.6, 0.1),
                (0.0, 0.15)]

# ---- panel 9: [Si III] 1883 / He II 1640 ----
p9_gray = [(-3.45, 1.0), (-3.4, 0.5), (-3.35, 0.2), (-3.3, 0.7), (-3.2, 0.0), (-3.1, 0.5),
           (-3.0, 0.8), (-2.9, 0.2), (-2.8, -0.2), (-2.7, 0.5), (-2.6, 0.8), (-2.5, 0.2),
           (-3.4, -0.9), (-3.2, -0.6), (-3.0, -0.4), (-2.9, -1.35), (-2.7, -0.9), (-2.5, -0.5),
           (-2.4, -1.1), (-2.3, 0.0), (-2.2, 0.7), (-2.1, -0.7), (-2.0, -1.4), (-2.0, 0.3),
           (-1.9, -0.3), (-1.8, 0.8), (-1.7, -1.0), (-1.6, 0.0), (-1.5, -0.6), (-1.4, 0.5),
           (-1.3, -1.2), (-1.3, -0.2), (-1.2, 0.3), (-1.1, -0.8), (-1.0, -1.4), (-1.0, 0.0),
           (-0.9, -0.5), (-0.8, -1.1), (-0.7, -0.7), (-0.65, -1.3), (-1.6, -1.3), (-2.3, -1.3),
           (-1.8, -0.6), (-2.2, -0.3), (-2.6, -0.2), (-1.4, -0.9), (-1.7, 0.4), (-2.4, 0.4),
           (-1.2, -0.6), (-0.85, 0.1), (-3.1, -0.1), (-2.8, 0.9), (-1.5, 0.3), (-1.9, -1.1),
           (-1.1, -1.0)]
p9_gray_fill = [(-2.55, -0.8), (-2.45, -0.2), (-2.35, -0.6), (-2.3, 0.3), (-2.2, -1.0), (-2.15, -0.4),
                (-2.05, 0.0), (-1.95, -0.7), (-1.9, 0.4), (-1.85, -0.95), (-1.75, -0.2), (-1.7, -0.5),
                (-1.6, 0.5), (-1.55, -0.85), (-1.5, -0.2), (-1.45, -1.1), (-1.35, -0.45), (-1.25, 0.05),
                (-1.25, -0.9), (-1.15, -0.35), (-1.05, -0.65), (-1.0, 0.3), (-0.95, -1.0), (-0.9, -0.25),
                (-0.8, -0.6), (-0.75, -0.9), (-0.7, -0.3), (-2.75, -0.6), (-2.6, 0.3), (-2.0, -1.2),
                (-1.2, -1.3), (-0.85, -1.25), (-3.3, 0.3), (-3.0, 0.1)]
p9_cyan = [(-1.5, 0.6), (-1.3, 0.3), (-1.2, 0.0), (-1.1, 0.8), (-1.0, 1.2), (-0.9, 1.4),
           (-0.8, 1.45), (-0.6, 1.3), (-0.4, 1.1), (-0.2, 0.9), (0.0, 1.0), (-0.1, 0.6), (0.2, 0.5),
           (0.4, 0.6), (0.6, 0.3), (0.8, 0.1), (1.0, 0.0), (1.2, -0.2), (1.4, -0.4), (1.6, -0.6),
           (1.85, -0.85), (1.85, -1.2), (1.6, -1.35), (1.3, -1.45), (1.0, -1.4), (0.7, -1.45),
           (0.4, -1.4), (0.1, -1.35), (-0.2, -1.2), (-0.4, -1.0), (-0.6, -0.8), (-0.8, -0.5),
           (-1.0, -0.2), (-0.7, 0.3), (-0.5, 0.6), (-0.3, 0.2), (-0.1, -0.2), (0.1, 0.0),
           (0.3, -0.3), (0.5, -0.5), (0.7, -0.2), (0.9, -0.6), (1.1, -0.8), (1.3, -1.0), (1.5, -1.0),
           (0.8, -1.0), (0.5, -0.9), (0.2, -0.7), (-0.1, -0.6), (-0.3, -0.5), (0.0, 0.4), (-0.5, 0.0),
           (-0.9, 0.2), (1.2, -0.5), (-1.2, -0.8), (-0.75, -1.0), (-2.85, 3.05), (-2.7, 3.05),
           (-2.8, 2.8), (-2.7, 2.85), (-1.9, 2.1), (-1.8, 2.0), (-1.45, 1.4), (-1.3, 1.25),
           (-1.2, 1.2)]
p9_cyan_fill = [(-1.4, 0.2), (-1.2, 0.5), (-1.0, 0.4), (-0.85, 0.9), (-0.7, 1.1), (-0.5, 0.95),
                (-0.3, 0.7), (-0.1, 0.3), (0.1, 0.6), (0.3, 0.3), (0.5, 0.15), (0.7, 0.0), (0.9, -0.2),
                (1.1, -0.35), (1.3, -0.55), (1.5, -0.75), (1.7, -0.95), (1.7, -1.25), (1.45, -1.2),
                (1.15, -1.3), (0.85, -1.3), (0.55, -1.25), (0.25, -1.2), (0.0, -1.1), (-0.3, -0.8),
                (-0.5, -0.55), (-0.7, -0.2), (-0.9, -0.1), (-0.2, 0.0), (0.0, -0.3), (0.2, -0.45),
                (0.4, -0.7), (0.6, -0.8), (0.8, -0.45), (1.0, -0.7), (1.2, -0.85), (1.4, -1.1),
                (0.6, -1.1), (0.3, -1.0), (-0.1, -0.85), (0.4, -0.1), (-0.5, -0.2), (-1.05, -0.5)]

# ---- panel 10: Si III] 1892 / He II 1640 ----
p10_gray = [(-3.45, 0.9), (-3.4, 0.3), (-3.35, 0.6), (-3.3, 0.0), (-3.2, 0.8), (-3.1, 0.3),
            (-3.0, 0.6), (-2.9, 0.1), (-2.8, 0.7), (-2.7, 0.4), (-3.35, 2.6), (-2.8, 1.8),
            (-3.4, 1.55), (-3.15, 1.5), (-2.55, 1.35), (-3.45, -0.7), (-3.35, -1.0), (-3.2, -1.1),
            (-3.0, -1.35), (-2.95, -0.6), (-2.8, -0.9), (-2.6, -0.4), (-2.5, -0.1), (-2.4, 0.4),
            (-2.3, -0.7), (-2.2, -1.1), (-2.1, 0.0), (-2.0, 0.7), (-2.0, -0.5), (-1.9, -1.2),
            (-1.8, -0.3), (-1.7, 0.4), (-1.7, -0.8), (-1.6, -1.35), (-1.5, 0.1), (-1.5, -0.5),
            (-1.4, -1.0), (-1.3, -1.4), (-1.3, -0.2), (-1.2, 0.5), (-1.1, -0.7), (-1.0, -1.2),
            (-1.0, 0.0), (-0.9, -0.4), (-0.8, -0.9), (-0.75, -1.1), (-0.7, -0.1), (-2.6, -0.8),
            (-2.3, 0.1), (-2.1, -0.35), (-1.9, 0.2), (-1.6, -0.1), (-1.8, -0.6), (-1.4, 0.3),
            (-1.2, -0.5), (-2.4, -1.0), (-1.1, 0.3), (-2.9, -0.1), (-3.0, -0.3), (-2.2, 0.5),
            (-1.5, -0.8), (-1.2, -1.0), (-2.0, -0.9), (-1.7, -1.1), (-2.5, -1.35)]
p10_gray_fill = [(-2.5, -0.6), (-2.45, -0.3), (-2.35, -0.9), (-2.25, -0.45), (-2.2, -0.1), (-2.1, -0.8),
                 (-2.05, -1.1), (-1.95, -0.6), (-1.9, -0.1), (-1.85, -0.95), (-1.75, -0.45),
                 (-1.65, -0.6), (-1.6, 0.2), (-1.55, -1.1), (-1.45, -0.3), (-1.4, -0.7), (-1.35, 0.0),
                 (-1.25, -0.85), (-1.2, -1.2), (-1.15, -0.35), (-1.05, -0.5), (-0.95, -0.85),
                 (-0.9, -1.1), (-0.85, -0.2), (-0.75, -0.6), (-0.65, -0.9), (-1.75, 0.1), (-2.0, 0.3),
                 (-1.3, 0.35), (-2.7, -0.2), (-2.8, 0.1), (-2.65, -0.55), (-1.4, -1.3), (-1.0, -1.35),
                 (-3.1, -0.6), (-3.3, -0.4)]
p10_cyan = [(-1.3, 0.5), (-1.1, 0.3), (-1.0, 0.6), (-0.9, 0.9), (-0.8, 1.0), (-0.6, 1.2),
            (-0.4, 1.2), (-0.2, 1.3), (0.0, 1.4), (0.2, 1.45), (0.3, 1.2), (0.1, 1.0), (0.5, 0.9),
            (0.7, 0.6), (0.9, 0.3), (1.1, 0.1), (1.3, -0.1), (1.5, -0.3), (1.7, -0.6), (1.85, -0.9),
            (1.9, -1.3), (1.7, -1.4), (1.4, -1.45), (1.1, -1.4), (0.8, -1.45), (0.5, -1.4),
            (0.2, -1.45), (0.0, -1.3), (-0.2, -1.2), (-0.4, -1.3), (-0.6, -0.6), (-0.8, -0.2),
            (-1.0, -0.1), (-0.7, 0.4), (-0.5, 0.6), (-0.3, 0.3), (-0.1, 0.7), (0.1, 0.5), (0.3, 0.2),
            (0.5, 0.0), (0.7, -0.3), (0.9, -0.5), (1.1, -0.7), (1.3, -0.9), (1.5, -1.1), (1.2, -1.2),
            (0.9, -1.0), (0.6, -0.8), (0.3, -0.6), (0.0, -0.4), (-0.2, 0.0), (-0.4, -0.3),
            (0.2, -1.0), (0.5, -1.1), (0.8, -0.1), (1.0, -0.3), (0.4, 0.5), (-0.1, -0.8),
            (-1.5, -1.0), (-0.9, -0.9), (-0.6, 0.0), (1.6, -0.8), (1.3, -0.4), (-1.05, 3.05),
            (-0.95, 3.05), (-0.55, 2.7), (-0.6, 2.65), (-0.1, 2.1), (-0.15, 2.0), (-1.2, 1.4),
            (-1.2, 1.3), (-0.6, 1.0)]
p10_cyan_fill = [(-0.95, 0.2), (-0.85, 0.5), (-0.75, 0.8), (-0.55, 0.85), (-0.35, 0.9), (-0.15, 1.1),
                 (0.05, 1.2), (0.25, 0.9), (0.45, 0.7), (0.6, 0.4), (0.75, 0.2), (1.0, -0.05),
                 (1.2, -0.3), (1.4, -0.55), (1.6, -0.45), (1.75, -0.75), (1.85, -1.2), (1.55, -1.3),
                 (1.3, -1.3), (1.0, -1.25), (0.7, -1.3), (0.4, -1.25), (0.1, -1.2), (-0.1, -1.05),
                 (-0.3, -0.7), (-0.5, -0.4), (-0.7, -0.05), (-0.4, 0.05), (-0.1, 0.4), (0.2, 0.2),
                 (0.4, -0.1), (0.6, -0.55), (0.8, -0.65), (1.0, -0.85), (1.2, -0.95), (1.4, -0.8),
                 (0.1, -0.25), (-0.2, -0.55), (0.35, -0.85), (0.7, -1.05), (1.65, -1.05), (0.6, 0.1),
                 (0.0, 0.15)]

xlabels = [
    "log ( N  V  λ1240 / He II  λ1640 )",
    "log ( N  V  λ1240 / C IV  λ1550 )",
    "log ( N  V  λ1240 / N  III]λ1750 )",
    "log ( O  III]λ1663 / He II  λ1640 )",
    "log ( O  III]λ1661 / He II  λ1640 )",
    "log ( O  III]λ1666 / He II  λ1640 )",
    "log ( N  III]λ1750 / He II  λ1640 )",
    "log ( Si  III]λ1888 / He II  λ1640 )",
    "log ( [Si III]λ1883 / He II  λ1640 )",
    "log ( Si  III]λ1892 / He II  λ1640 )",
]
xlims = [(-7.45, 3.5), (-3.5, 0.8), (-3.5, 3.5),
         (-3.5, 1.88), (-3.5, 1.88), (-3.5, 1.88),
         (-3.5, 1.88), (-3.5, 1.88), (-3.5, 1.88),
         (-3.5, 1.9)]
xticks = [list(range(-7, 4)), [-3, -2, -1], list(range(-3, 4)),
          [-3, -2, -1, 0, 1], [-3, -2, -1, 0, 1], [-3, -2, -1, 0, 1],
          [-3, -2, -1, 0, 1], [-3, -2, -1, 0], [-3, -2, -1, 0],
          [-3, -2, -1, 0]]
grays = [p1_gray + p1_gray_fill, p2_gray + p2_gray_fill, p3_gray + p3_gray_fill,
         p4_gray + p4_gray_fill, p5_gray + p5_gray_fill, p6_gray + p6_gray_fill,
         p7_gray + p7_gray_fill, p8_gray + p8_gray_fill, p9_gray + p9_gray_fill,
         p10_gray + p10_gray_fill]
cyans = [p1_cyan + p1_cyan_fill, p2_cyan + p2_cyan_fill, p3_cyan + p3_cyan_fill,
         p4_cyan + p4_cyan_fill, p5_cyan + p5_cyan_fill, p6_cyan + p6_cyan_fill,
         p7_cyan + p7_cyan_fill, p8_cyan + p8_cyan_fill, p9_cyan + p9_cyan_fill,
         p10_cyan + p10_cyan_fill]

W, H = 926, 1235
fig = plt.figure(figsize=(W / 100, H / 100), dpi=100)

col_left = [117, 355, 594]
row_bottom = [331, 581, 831, 1080]
aw, ah = 238.5, 208

for i in range(10):
    r, c = divmod(i, 3)
    ax = fig.add_axes([col_left[c] / W, 1 - row_bottom[r] / H, aw / W, ah / H])
    g = np.array(grays[i])
    cy = np.array(cyans[i])
    ax.scatter(g[:, 0], g[:, 1], s=15, c="#8c8c8c", linewidths=0, zorder=2)
    ax.scatter(cy[:, 0], cy[:, 1], s=15, c="#40e0d0", linewidths=0, zorder=3)
    ax.set_xlim(*xlims[i])
    ax.set_ylim(-4, 3.5)
    ax.set_xticks(xticks[i])
    ax.set_yticks(y_ticks)
    ax.set_xlabel(xlabels[i], fontsize=10, labelpad=3)

    for sp in ax.spines.values():
        sp.set_color("#888888")
        sp.set_linewidth(1.0)
    if c > 0:
        ax.spines["left"].set_color("#666666")
        ax.spines["left"].set_linewidth(1.8)

    ax.tick_params(axis="x", direction="in", top=True, bottom=True, length=4,
                   width=1.2, color="black", labelsize=8.5, pad=4)
    ax.tick_params(axis="y", direction="in", right=True, left=(c > 0), length=5,
                   width=1.3, color="black", labelsize=8.5, pad=4,
                   labelleft=(c == 0))

fig.text(0.078, 0.496, "log ( C IV λ1550 / C III]λ1908 )", rotation=90,
         ha="center", va="center", fontsize=14)

fig.savefig("out.png", dpi=100)
